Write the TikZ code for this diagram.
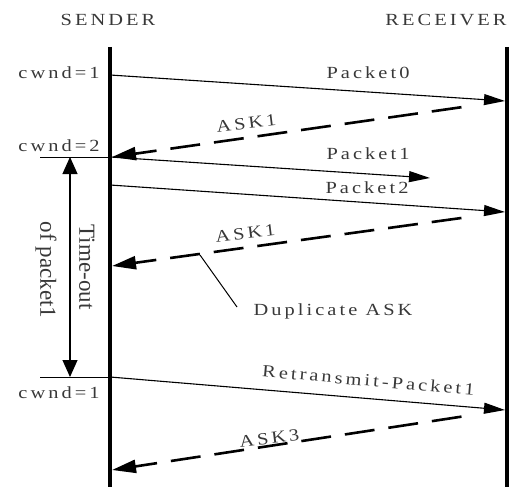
\documentclass[tikz,border=0pt]{standalone}
\usepackage{fontspec}
\usepackage{graphicx}
\setmainfont{Liberation Serif}
\newfontfamily\widefont[LetterSpace=15]{Liberation Serif}
\usetikzlibrary{arrows.meta}
\newcommand{\wt}[1]{\scalebox{1.2}[1]{\widefont\fontsize{17}{20}\selectfont #1}}
\tikzset{
  lbl/.style={inner sep=0pt, text=black!78},
  life/.style={line width=4pt},
  msg/.style={line width=1.1pt, -{Triangle[length=21pt,width=11pt]}},
  ackmsg/.style={line width=2.6pt, dash pattern=on 30pt off 14pt, shorten <=44pt, -{Triangle[length=24pt,width=13pt]}},
  thin/.style={line width=1pt},
  tout/.style={line width=1.1pt, {Triangle[length=17pt,width=15pt]}-{Triangle[length=17pt,width=15pt]}},
}
\begin{document}
\begin{tikzpicture}[x=1pt,y=-1pt]
\useasboundingbox (0,0) rectangle (514,487);
% lifelines
\coordinate (sTop) at (110,47); \coordinate (sBot) at (110,487);
\coordinate (rTop) at (507,47); \coordinate (rBot) at (507,487);
\draw[life] (sTop) -- (sBot);
\draw[life] (rTop) -- (rBot);
\node[lbl] (sender) at (108,20) {\wt{SENDER}};
\node[lbl] (receiver) at (446,20) {\wt{RECEIVER}};
% message points
\coordinate (s1) at (110,75);  \coordinate (r1) at (505,101);
\coordinate (s2) at (110,157); \coordinate (s2t) at (112,157);
\coordinate (x1) at (430,178);
\coordinate (s3) at (110,185); \coordinate (r2) at (505,212);
\coordinate (s4) at (112,266);
\coordinate (s5) at (110,377); \coordinate (r3) at (505,410);
\coordinate (s6) at (112,470);
\coordinate (c2) at (40,157); \coordinate (c1) at (40,377);
\coordinate (t1) at (70,157); \coordinate (t2) at (70,377);
\coordinate (d1) at (200,255); \coordinate (d2) at (237,307);
% cwnd labels and marks
\node[lbl, anchor=base] (cw1) at (59,78) {\wt{cwnd=1}};
\node[lbl, anchor=base] (cw2) at (59,151) {\wt{cwnd=2}};
\node[lbl, anchor=base] (cw3) at (59,398) {\wt{cwnd=1}};
\draw[thin] (c2) -- (s2);
\draw[thin] (c1) -- (s5);
% messages
\draw[msg] (s1) -- (r1);
\draw[ackmsg] (r1) -- (s2t);
\draw[msg] (s2) -- (x1);
\draw[msg] (s3) -- (r2);
\draw[ackmsg] (r2) -- (s4);
\draw[msg] (s5) -- (r3);
\draw[ackmsg] (r3) -- (s6);
% labels
\node[lbl, anchor=base] (p0) at (368,78) {\wt{Packet0}};
\node[lbl, anchor=base, rotate=7] (a1) at (247,129) {\wt{ASK1}};
\node[lbl, anchor=base] (p1) at (368,159) {\wt{Packet1}};
\node[lbl, anchor=base] (p2) at (367,193) {\wt{Packet2}};
\node[lbl, anchor=base, rotate=7] (a2) at (246,239) {\wt{ASK1}};
\node[lbl, anchor=base] (dup) at (333,315) {\wt{Duplicate ASK}};
\draw[thin] (d1) -- (d2);
\node[lbl, anchor=base, rotate=-5] (rp) at (368,386) {\wt{Retransmit-Packet1}};
\node[lbl, anchor=base, rotate=7] (a3) at (270,444) {\wt{ASK3}};
% timeout
\draw[tout] (t1) -- (t2);
\node[lbl, rotate=-90, font=\fontsize{23}{26}\selectfont] (to1) at (87,267) {Time-out};
\node[lbl, rotate=-90, font=\fontsize{23}{26}\selectfont] (to2) at (46,270) {of packet1};
\end{tikzpicture}
\end{document}
